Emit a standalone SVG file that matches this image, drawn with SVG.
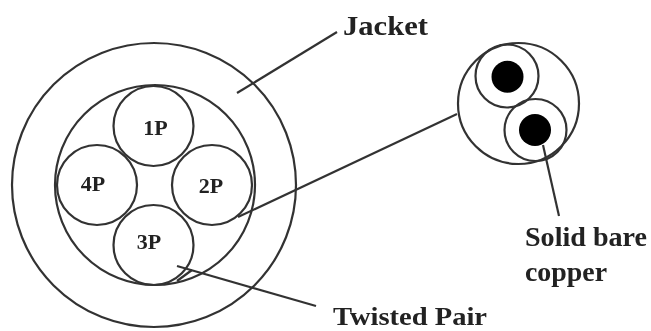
<svg xmlns="http://www.w3.org/2000/svg" width="651" height="331" viewBox="0 0 651 331">
<defs><filter id="soft" x="0" y="0" width="651" height="331" filterUnits="userSpaceOnUse"><feGaussianBlur stdDeviation="0.5"/></filter></defs>
<style>
.c{fill:none;stroke:#333;stroke-width:2.200}
.l{fill:none;stroke:#333;stroke-width:2.200}
.d{fill:#000;stroke:none}
text{font-family:"Liberation Serif","Times New Roman",serif;fill:#222;font-weight:bold}
.p{font-size:22px;text-anchor:middle}
.t{font-size:28px}
.b{font-size:26px}
</style>
<rect width="651" height="331" fill="#fff"/>
<g filter="url(#soft)">
<g id="connectors">
<path class="l" d="M237 93L337 32"/>
<path class="l" d="M238 217L457 114"/>
<path class="l" d="M177 266L316 306"/>
<path class="l" d="M177 281L192 270"/>
<path class="l" d="M543 145L559 216"/>
</g>
<g id="jacket"><circle class="c" cx="154" cy="185" r="142"/></g>
<g id="inner"><circle class="c" cx="155" cy="185" r="100"/></g>
<g id="pair-1p"><circle class="c" cx="153.500" cy="126" r="40"/><text class="p" x="155.500" y="135">1P</text></g>
<g id="pair-2p"><circle class="c" cx="212" cy="185" r="40"/><text class="p" x="211" y="193">2P</text></g>
<g id="pair-3p"><circle class="c" cx="153.500" cy="245" r="40"/><text class="p" x="149" y="249">3P</text></g>
<g id="pair-4p"><circle class="c" cx="97" cy="185" r="40"/><text class="p" x="93" y="191">4P</text></g>
<g id="detail">
<circle class="c" cx="518.500" cy="103.500" r="60.500"/>
<circle class="c" cx="507" cy="76" r="31.500"/>
<circle class="c" cx="535.500" cy="130" r="31"/>
<circle class="d" cx="507.500" cy="76.700" r="16"/>
<circle class="d" cx="535" cy="130" r="16"/>
</g>
<g id="labels">
<text class="t" x="343" y="35" textLength="85" lengthAdjust="spacingAndGlyphs">Jacket</text>
<text class="t" x="525" y="246" textLength="122" lengthAdjust="spacingAndGlyphs">Solid bare</text>
<text class="t" x="525" y="281" textLength="82" lengthAdjust="spacingAndGlyphs">copper</text>
<text class="b" x="333" y="325" textLength="154" lengthAdjust="spacingAndGlyphs">Twisted Pair</text>
</g>
</g>
</svg>
